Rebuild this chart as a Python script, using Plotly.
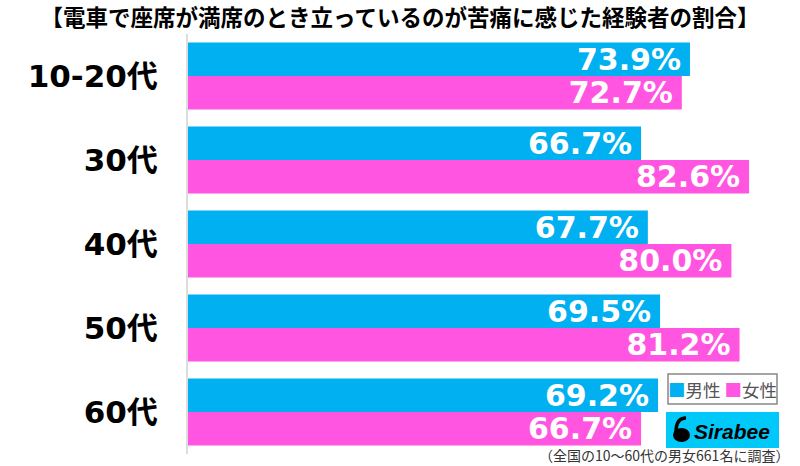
import plotly.graph_objects as go

categories = ["10-20代", "30代", "40代", "50代", "60代"]
male = [73.9, 66.7, 67.7, 69.5, 69.2]
female = [72.7, 82.6, 80.0, 81.2, 66.7]
series_names = ["男性", "女性"]
title_text = "【電車で座席が満席のとき立っているのが苦痛に感じた経験者の割合】"
note_text = "（全国の10〜60代の男女661名に調査）"

C_M = "#00B0F0"
C_F = "#FF55E1"
NUM_FONT = "DejaVu Sans, Noto Sans CJK JP"
JP_FONT = "Noto Sans CJK JP, Liberation Sans"

fig = go.Figure()
for name, vals, col in [(series_names[0], male, C_M), (series_names[1], female, C_F)]:
    fig.add_trace(go.Bar(
        y=categories, x=vals, name=name, orientation="h",
        marker=dict(color=col, line=dict(width=0)),
        text=[f"{v:.1f}%\u2009" for v in vals],
        textposition="inside", insidetextanchor="end",
        constraintext="none", textangle=0,
        textfont=dict(family=NUM_FONT, size=30, color="white", weight="bold"),
        showlegend=False,
    ))

fig.update_layout(
    width=800, height=466,
    margin=dict(l=188, r=0, t=34, b=12),
    paper_bgcolor="white", plot_bgcolor="white",
    barmode="group", bargap=0.2, bargroupgap=0,
    xaxis=dict(range=[0, 90.1], visible=False, fixedrange=True),
    yaxis=dict(autorange="reversed", showline=True, linecolor="#dddddd", linewidth=2,
               ticks="", ticklabelstandoff=22,
               tickfont=dict(family=NUM_FONT, size=31, color="black", weight="bold"),
               showgrid=False),
    title=dict(text=title_text, x=0.5, xanchor="center", y=1 - 18 / 466, yanchor="middle",
               font=dict(family=JP_FONT, size=22.5, color="black", weight="bold")),
)

# legend box (drawn)
fig.add_shape(type="rect", xref="paper", yref="paper",
              x0=(668-188)/612, x1=(777-188)/612, y0=(454-404)/420, y1=(454-374)/420,
              line=dict(color="#888888", width=1.5), fillcolor="white")
fig.add_annotation(xref="paper", yref="paper", x=(722.5-188)/612, y=(454-389)/420,
                   text=f"<span style='color:{C_M}'>■</span>{series_names[0]} <span style='color:{C_F}'>■</span>{series_names[1]}",
                   showarrow=False, xanchor="center", yanchor="middle",
                   font=dict(family=JP_FONT, size=17.5, color="#555555"))

# Sirabee logo
fig.add_shape(type="rect", xref="paper", yref="paper",
              x0=(666-188)/612, x1=(779-188)/612, y0=(454-448)/420, y1=(454-412)/420,
              line=dict(width=0), fillcolor="#00C8F8")
fig.add_shape(type="circle", xref="paper", yref="paper",
              x0=(673-188)/612, x1=(690-188)/612, y0=(454-442)/420, y1=(454-428)/420,
              line=dict(width=0), fillcolor="black")
fig.add_shape(type="path", xref="paper", yref="paper",
              path=f"M {(676-188)/612},{(454-432)/420} Q {(676-188)/612},{(454-418)/420} {(686-188)/612},{(454-418)/420}",
              line=dict(color="black", width=3.5))
fig.add_annotation(xref="paper", yref="paper", x=(692-188)/612, y=(454-431)/420,
                   text="<b><i>Sirabee</i></b>", showarrow=False, xanchor="left", yanchor="middle",
                   font=dict(family="Liberation Sans, Arial", size=21, color="black"))

# footnote
fig.add_annotation(xref="paper", yref="paper", x=(791-188)/612, y=(454-455)/420,
                   text=note_text, showarrow=False, xanchor="right", yanchor="middle",
                   font=dict(family=JP_FONT, size=14, color="#333333"))

fig.write_html("out.html")
